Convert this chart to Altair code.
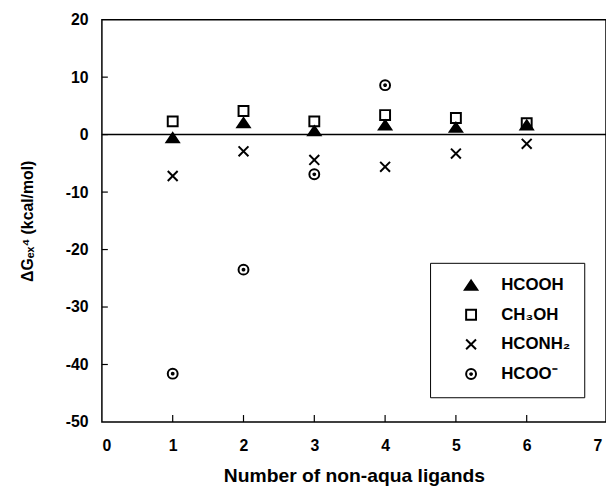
import altair as alt
import pandas as pd

# ---- data ----
x_vals = [1, 2, 3, 4, 5, 6]
hcooh = [-0.5, 2.1, 0.7, 1.7, 1.3, 1.7]
ch3oh = [2.3, 4.1, 2.3, 3.4, 2.9, 2.0]
hconh2 = [-7.2, -2.9, -4.4, -5.6, -3.3, -1.6]
hcoo_x = [1, 2, 3, 4]
hcoo = [-41.6, -23.5, -6.9, 8.6]

series_names = ["HCOOH", "CH₃OH", "HCONH₂", "HCOO⁻"]
y_tick_values = [-50, -40, -30, -20, -10, 0, 10, 20]
x_tick_values = [0, 1, 2, 3, 4, 5, 6, 7]
inner_y_ticks = [-40, -30, -20, -10, 0, 10]
inner_x_ticks = [1, 2, 3, 4, 5, 6]

rows = []
for xs, ys, name in [(x_vals, hcooh, series_names[0]),
                     (x_vals, ch3oh, series_names[1]),
                     (x_vals, hconh2, series_names[2]),
                     (hcoo_x, hcoo, series_names[3])]:
    for a, b in zip(xs, ys):
        rows.append({"n": a, "dg": b, "series": name})
df = pd.DataFrame(rows)

shape_range = [
    "M0,-0.9L1.25,0.95L-1.25,0.95Z",
    "square",
    "M-1,-1L1,1M-1,1L1,-1",
    "M-1,0A1,1,0,1,1,1,0A1,1,0,1,1,-1,0Z"
    "M-0.18,0A0.18,0.18,0,1,1,0.18,0A0.18,0.18,0,1,1,-0.18,0Z",
]
fill_range = ["black", "transparent", "transparent", "transparent"]
stroke_range = ["black", "black", "black", "black"]

FONT = "Liberation Sans"
xdom = [0, 7.12]
ydom = [-50, 20]

xscale = alt.Scale(domain=xdom, nice=False, zero=False)
yscale = alt.Scale(domain=ydom, nice=False, zero=False)

x_axis = alt.Axis(values=x_tick_values, title="Number of non-aqua ligands",
                  labelPadding=16, titlePadding=13, titleFontSize=19.5,
                  labelExpr="datum.value + ''")
y_axis = alt.Axis(values=y_tick_values, title="ΔGₑₓ⁴    (kcal/mol)",
                  labelPadding=14, titlePadding=30, titleFontSize=16,
                  labelExpr="datum.value + ''")

LX, LY, LW, LH = 332, 246, 151, 130
shadow = alt.Chart(pd.DataFrame({"k": [0]})).mark_rect(color="black").encode(
    x=alt.value(LX + 3), x2=alt.value(LX + LW + 3),
    y=alt.value(LY + 3), y2=alt.value(LY + LH + 3),
)

zero_line = alt.Chart(pd.DataFrame({"dg": [0]})).mark_rule(color="black", strokeWidth=1.5).encode(
    y=alt.Y("dg:Q", scale=yscale, axis=y_axis)
)

yticks = alt.Chart(pd.DataFrame({"dg": inner_y_ticks})).mark_rule(color="black", strokeWidth=1.2).encode(
    y=alt.Y("dg:Q", scale=yscale, axis=y_axis),
    x=alt.value(0),
    x2=alt.value(6),
)

xticks = alt.Chart(pd.DataFrame({"n": inner_x_ticks})).mark_rule(color="black", strokeWidth=1.2).encode(
    x=alt.X("n:Q", scale=xscale, axis=x_axis),
    y=alt.value(407),
    y2=alt.value(400),
)

points = alt.Chart(df).mark_point(size=100, strokeWidth=2, opacity=1, filled=False).encode(
    x=alt.X("n:Q", scale=xscale, axis=x_axis),
    y=alt.Y("dg:Q", scale=yscale, axis=y_axis),
    shape=alt.Shape("series:N", scale=alt.Scale(domain=series_names, range=shape_range),
                    legend=alt.Legend(title=None, orient="none", legendX=LX, legendY=LY,
                                      padding=14, symbolOffset=19, labelOffset=22,
                                      rowPadding=11, symbolSize=100, symbolStrokeWidth=2,
                                      labelFontSize=17, labelFont=FONT, labelFontWeight="bold",
                                      labelColor="black", strokeColor="black",
                                      fillColor="white")),
    fill=alt.Fill("series:N", scale=alt.Scale(domain=series_names, range=fill_range)),
    color=alt.Color("series:N", scale=alt.Scale(domain=series_names, range=stroke_range)),
)

chart = alt.layer(shadow, zero_line, yticks, xticks, points).properties(
    width=510, height=407,
    autosize=alt.AutoSizeParams(type="none"),
    padding={"left": 95, "top": 9, "right": 0, "bottom": 64},
).configure_view(
    stroke="black", strokeWidth=1.5
).configure_axis(
    domain=False, ticks=False, grid=False,
    labelFont=FONT, labelFontWeight="bold", labelFontSize=16, labelColor="black",
    titleFont=FONT, titleFontWeight="bold", titleColor="black",
)

chart.save("out.html", embed_options={"renderer": "svg", "actions": False})
